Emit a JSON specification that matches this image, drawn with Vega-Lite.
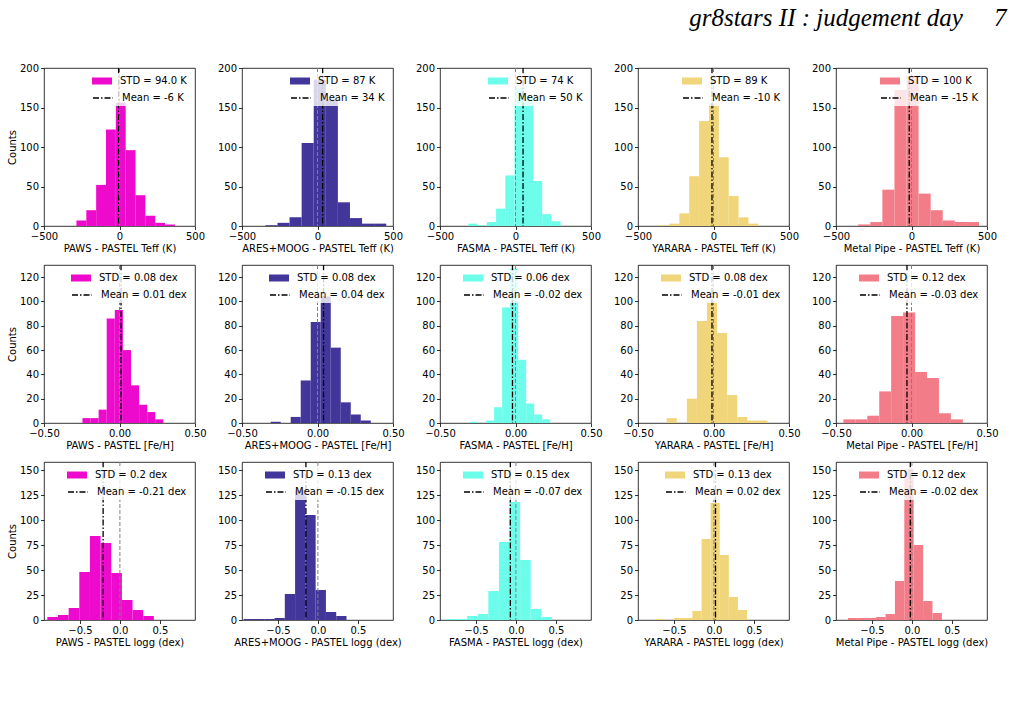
{
"$schema": "https://vega.github.io/schema/vega-lite/v6.json",
"padding": {"left": 7, "top": 5, "right": 5, "bottom": 5},
"title": {"text": "gr8stars II : judgement day\u00a0\u00a0\u00a0\u00a0\u00a07", "anchor": "end", "font": "Liberation Serif", "fontStyle": "italic", "fontWeight": "normal", "fontSize": 25, "color": "#000000", "offset": 32, "dx": 8},
"datasets": {
"bars": [
{"p":1,"x0":-285,"x1":-219.8,"n":7,"k":"STD = 94.0 K"},{"p":1,"x0":-219.8,"x1":-154.6,"n":20,"k":"STD = 94.0 K"},{"p":1,"x0":-154.6,"x1":-89.4,"n":52,"k":"STD = 94.0 K"},{"p":1,"x0":-89.4,"x1":-24.2,"n":122,"k":"STD = 94.0 K"},{"p":1,"x0":-24.2,"x1":41,"n":156,"k":"STD = 94.0 K"},{"p":1,"x0":41,"x1":106.2,"n":96,"k":"STD = 94.0 K"},{"p":1,"x0":106.2,"x1":171.4,"n":39,"k":"STD = 94.0 K"},{"p":1,"x0":171.4,"x1":236.6,"n":13,"k":"STD = 94.0 K"},{"p":1,"x0":236.6,"x1":301.8,"n":4,"k":"STD = 94.0 K"},{"p":1,"x0":301.8,"x1":367,"n":2,"k":"STD = 94.0 K"},
{"p":2,"x0":-345,"x1":-265,"n":1,"k":"STD = 87 K"},{"p":2,"x0":-265,"x1":-185,"n":4,"k":"STD = 87 K"},{"p":2,"x0":-185,"x1":-105,"n":11,"k":"STD = 87 K"},{"p":2,"x0":-105,"x1":-25,"n":105,"k":"STD = 87 K"},{"p":2,"x0":-25,"x1":55,"n":185,"k":"STD = 87 K"},{"p":2,"x0":55,"x1":135,"n":160,"k":"STD = 87 K"},{"p":2,"x0":135,"x1":215,"n":30,"k":"STD = 87 K"},{"p":2,"x0":215,"x1":295,"n":10,"k":"STD = 87 K"},{"p":2,"x0":295,"x1":375,"n":3,"k":"STD = 87 K"},{"p":2,"x0":375,"x1":455,"n":3,"k":"STD = 87 K"},
{"p":3,"x0":-312,"x1":-250.9,"n":3,"k":"STD = 74 K"},{"p":3,"x0":-250.9,"x1":-189.8,"n":1,"k":"STD = 74 K"},{"p":3,"x0":-189.8,"x1":-128.7,"n":5,"k":"STD = 74 K"},{"p":3,"x0":-128.7,"x1":-67.6,"n":22,"k":"STD = 74 K"},{"p":3,"x0":-67.6,"x1":-6.5,"n":64,"k":"STD = 74 K"},{"p":3,"x0":-6.5,"x1":54.6,"n":175,"k":"STD = 74 K"},{"p":3,"x0":54.6,"x1":115.7,"n":165,"k":"STD = 74 K"},{"p":3,"x0":115.7,"x1":176.8,"n":57,"k":"STD = 74 K"},{"p":3,"x0":176.8,"x1":237.9,"n":15,"k":"STD = 74 K"},{"p":3,"x0":237.9,"x1":299,"n":6,"k":"STD = 74 K"},
{"p":4,"x0":-357,"x1":-291.6,"n":1,"k":"STD = 89 K"},{"p":4,"x0":-291.6,"x1":-226.2,"n":3,"k":"STD = 89 K"},{"p":4,"x0":-226.2,"x1":-160.8,"n":16,"k":"STD = 89 K"},{"p":4,"x0":-160.8,"x1":-95.4,"n":63,"k":"STD = 89 K"},{"p":4,"x0":-95.4,"x1":-30,"n":133,"k":"STD = 89 K"},{"p":4,"x0":-30,"x1":35.4,"n":155,"k":"STD = 89 K"},{"p":4,"x0":35.4,"x1":100.8,"n":87,"k":"STD = 89 K"},{"p":4,"x0":100.8,"x1":166.2,"n":38,"k":"STD = 89 K"},{"p":4,"x0":166.2,"x1":231.6,"n":11,"k":"STD = 89 K"},{"p":4,"x0":231.6,"x1":297,"n":3,"k":"STD = 89 K"},
{"p":5,"x0":-353,"x1":-273,"n":2,"k":"STD = 100 K"},{"p":5,"x0":-273,"x1":-193,"n":5,"k":"STD = 100 K"},{"p":5,"x0":-193,"x1":-113,"n":46,"k":"STD = 100 K"},{"p":5,"x0":-113,"x1":-33,"n":172,"k":"STD = 100 K"},{"p":5,"x0":-33,"x1":47,"n":190,"k":"STD = 100 K"},{"p":5,"x0":47,"x1":127,"n":41,"k":"STD = 100 K"},{"p":5,"x0":127,"x1":207,"n":20,"k":"STD = 100 K"},{"p":5,"x0":207,"x1":287,"n":7,"k":"STD = 100 K"},{"p":5,"x0":287,"x1":367,"n":5,"k":"STD = 100 K"},{"p":5,"x0":367,"x1":447,"n":5,"k":"STD = 100 K"},
{"p":6,"x0":-0.2455,"x1":-0.1919,"n":4,"k":"STD = 0.08 dex"},{"p":6,"x0":-0.1919,"x1":-0.1383,"n":4,"k":"STD = 0.08 dex"},{"p":6,"x0":-0.1383,"x1":-0.0847,"n":11,"k":"STD = 0.08 dex"},{"p":6,"x0":-0.0847,"x1":-0.0311,"n":86,"k":"STD = 0.08 dex"},{"p":6,"x0":-0.0311,"x1":0.0225,"n":93,"k":"STD = 0.08 dex"},{"p":6,"x0":0.0225,"x1":0.0761,"n":60,"k":"STD = 0.08 dex"},{"p":6,"x0":0.0761,"x1":0.1297,"n":31,"k":"STD = 0.08 dex"},{"p":6,"x0":0.1297,"x1":0.1833,"n":15,"k":"STD = 0.08 dex"},{"p":6,"x0":0.1833,"x1":0.2369,"n":9,"k":"STD = 0.08 dex"},{"p":6,"x0":0.2369,"x1":0.2905,"n":3,"k":"STD = 0.08 dex"},
{"p":7,"x0":-0.31,"x1":-0.2437,"n":1,"k":"STD = 0.08 dex"},{"p":7,"x0":-0.2437,"x1":-0.1774,"n":0,"k":"STD = 0.08 dex"},{"p":7,"x0":-0.1774,"x1":-0.1111,"n":5,"k":"STD = 0.08 dex"},{"p":7,"x0":-0.1111,"x1":-0.0448,"n":35,"k":"STD = 0.08 dex"},{"p":7,"x0":-0.0448,"x1":0.0215,"n":83,"k":"STD = 0.08 dex"},{"p":7,"x0":0.0215,"x1":0.0878,"n":104,"k":"STD = 0.08 dex"},{"p":7,"x0":0.0878,"x1":0.1541,"n":62,"k":"STD = 0.08 dex"},{"p":7,"x0":0.1541,"x1":0.2204,"n":17,"k":"STD = 0.08 dex"},{"p":7,"x0":0.2204,"x1":0.2867,"n":7,"k":"STD = 0.08 dex"},{"p":7,"x0":0.2867,"x1":0.353,"n":2,"k":"STD = 0.08 dex"},
{"p":8,"x0":-0.301,"x1":-0.2479,"n":1,"k":"STD = 0.06 dex"},{"p":8,"x0":-0.2479,"x1":-0.1948,"n":0,"k":"STD = 0.06 dex"},{"p":8,"x0":-0.1948,"x1":-0.1417,"n":2,"k":"STD = 0.06 dex"},{"p":8,"x0":-0.1417,"x1":-0.0886,"n":13,"k":"STD = 0.06 dex"},{"p":8,"x0":-0.0886,"x1":-0.0355,"n":95,"k":"STD = 0.06 dex"},{"p":8,"x0":-0.0355,"x1":0.0176,"n":127,"k":"STD = 0.06 dex"},{"p":8,"x0":0.0176,"x1":0.0707,"n":52,"k":"STD = 0.06 dex"},{"p":8,"x0":0.0707,"x1":0.1238,"n":16,"k":"STD = 0.06 dex"},{"p":8,"x0":0.1238,"x1":0.1769,"n":7,"k":"STD = 0.06 dex"},{"p":8,"x0":0.1769,"x1":0.23,"n":3,"k":"STD = 0.06 dex"},
{"p":9,"x0":-0.31,"x1":-0.2433,"n":4,"k":"STD = 0.08 dex"},{"p":9,"x0":-0.2433,"x1":-0.1766,"n":0,"k":"STD = 0.08 dex"},{"p":9,"x0":-0.1766,"x1":-0.1099,"n":20,"k":"STD = 0.08 dex"},{"p":9,"x0":-0.1099,"x1":-0.0432,"n":84,"k":"STD = 0.08 dex"},{"p":9,"x0":-0.0432,"x1":0.0235,"n":100,"k":"STD = 0.08 dex"},{"p":9,"x0":0.0235,"x1":0.0902,"n":74,"k":"STD = 0.08 dex"},{"p":9,"x0":0.0902,"x1":0.1569,"n":23,"k":"STD = 0.08 dex"},{"p":9,"x0":0.1569,"x1":0.2236,"n":5,"k":"STD = 0.08 dex"},{"p":9,"x0":0.2236,"x1":0.2903,"n":2,"k":"STD = 0.08 dex"},{"p":9,"x0":0.2903,"x1":0.357,"n":2,"k":"STD = 0.08 dex"},
{"p":10,"x0":-0.451,"x1":-0.3719,"n":3,"k":"STD = 0.12 dex"},{"p":10,"x0":-0.3719,"x1":-0.2928,"n":3,"k":"STD = 0.12 dex"},{"p":10,"x0":-0.2928,"x1":-0.2137,"n":6,"k":"STD = 0.12 dex"},{"p":10,"x0":-0.2137,"x1":-0.1346,"n":26,"k":"STD = 0.12 dex"},{"p":10,"x0":-0.1346,"x1":-0.0555,"n":88,"k":"STD = 0.12 dex"},{"p":10,"x0":-0.0555,"x1":0.0236,"n":91,"k":"STD = 0.12 dex"},{"p":10,"x0":0.0236,"x1":0.1027,"n":42,"k":"STD = 0.12 dex"},{"p":10,"x0":0.1027,"x1":0.1818,"n":37,"k":"STD = 0.12 dex"},{"p":10,"x0":0.1818,"x1":0.2609,"n":8,"k":"STD = 0.12 dex"},{"p":10,"x0":0.2609,"x1":0.34,"n":3,"k":"STD = 0.12 dex"},
{"p":11,"x0":-0.908,"x1":-0.7747,"n":3,"k":"STD = 0.2 dex"},{"p":11,"x0":-0.7747,"x1":-0.6414,"n":5,"k":"STD = 0.2 dex"},{"p":11,"x0":-0.6414,"x1":-0.5081,"n":12,"k":"STD = 0.2 dex"},{"p":11,"x0":-0.5081,"x1":-0.3748,"n":48,"k":"STD = 0.2 dex"},{"p":11,"x0":-0.3748,"x1":-0.2415,"n":84,"k":"STD = 0.2 dex"},{"p":11,"x0":-0.2415,"x1":-0.1082,"n":77,"k":"STD = 0.2 dex"},{"p":11,"x0":-0.1082,"x1":0.0251,"n":47,"k":"STD = 0.2 dex"},{"p":11,"x0":0.0251,"x1":0.1584,"n":20,"k":"STD = 0.2 dex"},{"p":11,"x0":0.1584,"x1":0.2917,"n":10,"k":"STD = 0.2 dex"},{"p":11,"x0":0.2917,"x1":0.425,"n":4,"k":"STD = 0.2 dex"},
{"p":12,"x0":-0.929,"x1":-0.8003,"n":1,"k":"STD = 0.13 dex"},{"p":12,"x0":-0.8003,"x1":-0.6716,"n":1,"k":"STD = 0.13 dex"},{"p":12,"x0":-0.6716,"x1":-0.5429,"n":1,"k":"STD = 0.13 dex"},{"p":12,"x0":-0.5429,"x1":-0.4142,"n":2,"k":"STD = 0.13 dex"},{"p":12,"x0":-0.4142,"x1":-0.2855,"n":26,"k":"STD = 0.13 dex"},{"p":12,"x0":-0.2855,"x1":-0.1568,"n":130,"k":"STD = 0.13 dex"},{"p":12,"x0":-0.1568,"x1":-0.0281,"n":105,"k":"STD = 0.13 dex"},{"p":12,"x0":-0.0281,"x1":0.1006,"n":30,"k":"STD = 0.13 dex"},{"p":12,"x0":0.1006,"x1":0.2293,"n":8,"k":"STD = 0.13 dex"},{"p":12,"x0":0.2293,"x1":0.358,"n":4,"k":"STD = 0.13 dex"},
{"p":13,"x0":-0.875,"x1":-0.7425,"n":1,"k":"STD = 0.15 dex"},{"p":13,"x0":-0.7425,"x1":-0.61,"n":1,"k":"STD = 0.15 dex"},{"p":13,"x0":-0.61,"x1":-0.4775,"n":4,"k":"STD = 0.15 dex"},{"p":13,"x0":-0.4775,"x1":-0.345,"n":6,"k":"STD = 0.15 dex"},{"p":13,"x0":-0.345,"x1":-0.2125,"n":29,"k":"STD = 0.15 dex"},{"p":13,"x0":-0.2125,"x1":-0.08,"n":78,"k":"STD = 0.15 dex"},{"p":13,"x0":-0.08,"x1":0.0525,"n":118,"k":"STD = 0.15 dex"},{"p":13,"x0":0.0525,"x1":0.185,"n":60,"k":"STD = 0.15 dex"},{"p":13,"x0":0.185,"x1":0.3175,"n":11,"k":"STD = 0.15 dex"},{"p":13,"x0":0.3175,"x1":0.45,"n":3,"k":"STD = 0.15 dex"},
{"p":14,"x0":-0.725,"x1":-0.611,"n":1,"k":"STD = 0.13 dex"},{"p":14,"x0":-0.611,"x1":-0.497,"n":0,"k":"STD = 0.13 dex"},{"p":14,"x0":-0.497,"x1":-0.383,"n":2,"k":"STD = 0.13 dex"},{"p":14,"x0":-0.383,"x1":-0.269,"n":2,"k":"STD = 0.13 dex"},{"p":14,"x0":-0.269,"x1":-0.155,"n":9,"k":"STD = 0.13 dex"},{"p":14,"x0":-0.155,"x1":-0.041,"n":81,"k":"STD = 0.13 dex"},{"p":14,"x0":-0.041,"x1":0.073,"n":117,"k":"STD = 0.13 dex"},{"p":14,"x0":0.073,"x1":0.187,"n":65,"k":"STD = 0.13 dex"},{"p":14,"x0":0.187,"x1":0.301,"n":23,"k":"STD = 0.13 dex"},{"p":14,"x0":0.301,"x1":0.415,"n":10,"k":"STD = 0.13 dex"},
{"p":15,"x0":-0.8,"x1":-0.6825,"n":2,"k":"STD = 0.12 dex"},{"p":15,"x0":-0.6825,"x1":-0.565,"n":2,"k":"STD = 0.12 dex"},{"p":15,"x0":-0.565,"x1":-0.4475,"n":2,"k":"STD = 0.12 dex"},{"p":15,"x0":-0.4475,"x1":-0.33,"n":3,"k":"STD = 0.12 dex"},{"p":15,"x0":-0.33,"x1":-0.2125,"n":6,"k":"STD = 0.12 dex"},{"p":15,"x0":-0.2125,"x1":-0.095,"n":39,"k":"STD = 0.12 dex"},{"p":15,"x0":-0.095,"x1":0.0225,"n":151,"k":"STD = 0.12 dex"},{"p":15,"x0":0.0225,"x1":0.14,"n":75,"k":"STD = 0.12 dex"},{"p":15,"x0":0.14,"x1":0.2575,"n":19,"k":"STD = 0.12 dex"},{"p":15,"x0":0.2575,"x1":0.375,"n":7,"k":"STD = 0.12 dex"}
],
"lines": [
{"p":1,"m":-6,"k":"Mean = -6 K"},{"p":2,"m":34,"k":"Mean = 34 K"},{"p":3,"m":50,"k":"Mean = 50 K"},{"p":4,"m":-10,"k":"Mean = -10 K"},{"p":5,"m":-15,"k":"Mean = -15 K"},
{"p":6,"m":0.01,"k":"Mean = 0.01 dex"},{"p":7,"m":0.04,"k":"Mean = 0.04 dex"},{"p":8,"m":-0.02,"k":"Mean = -0.02 dex"},{"p":9,"m":-0.01,"k":"Mean = -0.01 dex"},{"p":10,"m":-0.03,"k":"Mean = -0.03 dex"},
{"p":11,"m":-0.21,"k":"Mean = -0.21 dex"},{"p":12,"m":-0.15,"k":"Mean = -0.15 dex"},{"p":13,"m":-0.07,"k":"Mean = -0.07 dex"},{"p":14,"m":0.02,"k":"Mean = 0.02 dex"},{"p":15,"m":-0.02,"k":"Mean = -0.02 dex"}
]
},
"spacing": 9,
"resolve": {"scale": {"color": "independent", "strokeDash": "independent"}, "legend": {"color": "independent", "strokeDash": "independent"}},
"vconcat": [
{"spacing": 47, "bounds": "flush",
 "resolve": {"scale": {"color": "independent", "strokeDash": "independent"}, "legend": {"color": "independent", "strokeDash": "independent"}},
 "hconcat": [
{"width":151,"height":158,"layer":[
 {"data":{"name":"bars"},"transform":[{"filter":"datum.p == 1"}],"mark":"rect","encoding":{
  "x":{"field":"x0","type":"quantitative","title":"PAWS - PASTEL Teff (K)","scale":{"domain":[-500,500],"nice":false,"zero":false},"axis":{"values":[-500,-250,0,250,500],"format":"d"}},
  "x2":{"field":"x1"},
  "y":{"field":"n","type":"quantitative","title":"Counts","scale":{"domain":[0,200],"nice":false},"axis":{"values":[0,50,100,150,200]}},
  "y2":{"datum":0},
  "color":{"field":"k","type":"nominal","scale":{"range":["#EE0ACC"]},"legend":{"title":null,"symbolType":"M-2,-0.7H2V0.7H-2Z","symbolStrokeWidth":0}}}},
 {"data":{"name":"lines"},"transform":[{"filter":"datum.p == 1"}],"mark":{"type":"rule","color":"#808080","strokeDash":[4,2],"strokeWidth":1},"encoding":{"x":{"datum":0}}},
 {"data":{"name":"lines"},"transform":[{"filter":"datum.p == 1"}],"mark":{"type":"rule","color":"#000000","strokeWidth":1.3},"encoding":{"x":{"field":"m","type":"quantitative","title":"PAWS - PASTEL Teff (K)"},"strokeDash":{"field":"k","type":"nominal","scale":{"range":[[6,2,1.5,2]]},"legend":{"title":null,"symbolType":"M-2,0H2","symbolStrokeColor":"#000000","symbolStrokeWidth":1.5}}}}
]},
{"width":151,"height":158,"layer":[
 {"data":{"name":"bars"},"transform":[{"filter":"datum.p == 2"}],"mark":"rect","encoding":{
  "x":{"field":"x0","type":"quantitative","title":"ARES+MOOG - PASTEL Teff (K)","scale":{"domain":[-500,500],"nice":false,"zero":false},"axis":{"values":[-500,-250,0,250,500],"format":"d"}},
  "x2":{"field":"x1"},
  "y":{"field":"n","type":"quantitative","title":null,"scale":{"domain":[0,200],"nice":false},"axis":{"values":[0,50,100,150,200]}},
  "y2":{"datum":0},
  "color":{"field":"k","type":"nominal","scale":{"range":["#42369B"]},"legend":{"title":null,"symbolType":"M-2,-0.7H2V0.7H-2Z","symbolStrokeWidth":0}}}},
 {"data":{"name":"lines"},"transform":[{"filter":"datum.p == 2"}],"mark":{"type":"rule","color":"#808080","strokeDash":[4,2],"strokeWidth":1},"encoding":{"x":{"datum":0}}},
 {"data":{"name":"lines"},"transform":[{"filter":"datum.p == 2"}],"mark":{"type":"rule","color":"#000000","strokeWidth":1.3},"encoding":{"x":{"field":"m","type":"quantitative","title":"ARES+MOOG - PASTEL Teff (K)"},"strokeDash":{"field":"k","type":"nominal","scale":{"range":[[6,2,1.5,2]]},"legend":{"title":null,"symbolType":"M-2,0H2","symbolStrokeColor":"#000000","symbolStrokeWidth":1.5}}}}
]},
{"width":151,"height":158,"layer":[
 {"data":{"name":"bars"},"transform":[{"filter":"datum.p == 3"}],"mark":"rect","encoding":{
  "x":{"field":"x0","type":"quantitative","title":"FASMA - PASTEL Teff (K)","scale":{"domain":[-500,500],"nice":false,"zero":false},"axis":{"values":[-500,-250,0,250,500],"format":"d"}},
  "x2":{"field":"x1"},
  "y":{"field":"n","type":"quantitative","title":null,"scale":{"domain":[0,200],"nice":false},"axis":{"values":[0,50,100,150,200]}},
  "y2":{"datum":0},
  "color":{"field":"k","type":"nominal","scale":{"range":["#6DFDEB"]},"legend":{"title":null,"symbolType":"M-2,-0.7H2V0.7H-2Z","symbolStrokeWidth":0}}}},
 {"data":{"name":"lines"},"transform":[{"filter":"datum.p == 3"}],"mark":{"type":"rule","color":"#808080","strokeDash":[4,2],"strokeWidth":1},"encoding":{"x":{"datum":0}}},
 {"data":{"name":"lines"},"transform":[{"filter":"datum.p == 3"}],"mark":{"type":"rule","color":"#000000","strokeWidth":1.3},"encoding":{"x":{"field":"m","type":"quantitative","title":"FASMA - PASTEL Teff (K)"},"strokeDash":{"field":"k","type":"nominal","scale":{"range":[[6,2,1.5,2]]},"legend":{"title":null,"symbolType":"M-2,0H2","symbolStrokeColor":"#000000","symbolStrokeWidth":1.5}}}}
]},
{"width":151,"height":158,"layer":[
 {"data":{"name":"bars"},"transform":[{"filter":"datum.p == 4"}],"mark":"rect","encoding":{
  "x":{"field":"x0","type":"quantitative","title":"YARARA - PASTEL Teff (K)","scale":{"domain":[-500,500],"nice":false,"zero":false},"axis":{"values":[-500,-250,0,250,500],"format":"d"}},
  "x2":{"field":"x1"},
  "y":{"field":"n","type":"quantitative","title":null,"scale":{"domain":[0,200],"nice":false},"axis":{"values":[0,50,100,150,200]}},
  "y2":{"datum":0},
  "color":{"field":"k","type":"nominal","scale":{"range":["#F0D57A"]},"legend":{"title":null,"symbolType":"M-2,-0.7H2V0.7H-2Z","symbolStrokeWidth":0}}}},
 {"data":{"name":"lines"},"transform":[{"filter":"datum.p == 4"}],"mark":{"type":"rule","color":"#808080","strokeDash":[4,2],"strokeWidth":1},"encoding":{"x":{"datum":0}}},
 {"data":{"name":"lines"},"transform":[{"filter":"datum.p == 4"}],"mark":{"type":"rule","color":"#000000","strokeWidth":1.3},"encoding":{"x":{"field":"m","type":"quantitative","title":"YARARA - PASTEL Teff (K)"},"strokeDash":{"field":"k","type":"nominal","scale":{"range":[[6,2,1.5,2]]},"legend":{"title":null,"symbolType":"M-2,0H2","symbolStrokeColor":"#000000","symbolStrokeWidth":1.5}}}}
]},
{"width":151,"height":158,"layer":[
 {"data":{"name":"bars"},"transform":[{"filter":"datum.p == 5"}],"mark":"rect","encoding":{
  "x":{"field":"x0","type":"quantitative","title":"Metal Pipe - PASTEL Teff (K)","scale":{"domain":[-500,500],"nice":false,"zero":false},"axis":{"values":[-500,-250,0,250,500],"format":"d"}},
  "x2":{"field":"x1"},
  "y":{"field":"n","type":"quantitative","title":null,"scale":{"domain":[0,200],"nice":false},"axis":{"values":[0,50,100,150,200]}},
  "y2":{"datum":0},
  "color":{"field":"k","type":"nominal","scale":{"range":["#F27C87"]},"legend":{"title":null,"symbolType":"M-2,-0.7H2V0.7H-2Z","symbolStrokeWidth":0}}}},
 {"data":{"name":"lines"},"transform":[{"filter":"datum.p == 5"}],"mark":{"type":"rule","color":"#808080","strokeDash":[4,2],"strokeWidth":1},"encoding":{"x":{"datum":0}}},
 {"data":{"name":"lines"},"transform":[{"filter":"datum.p == 5"}],"mark":{"type":"rule","color":"#000000","strokeWidth":1.3},"encoding":{"x":{"field":"m","type":"quantitative","title":"Metal Pipe - PASTEL Teff (K)"},"strokeDash":{"field":"k","type":"nominal","scale":{"range":[[6,2,1.5,2]]},"legend":{"title":null,"symbolType":"M-2,0H2","symbolStrokeColor":"#000000","symbolStrokeWidth":1.5}}}}
]}
]},
{"spacing": 47, "bounds": "flush",
 "resolve": {"scale": {"color": "independent", "strokeDash": "independent"}, "legend": {"color": "independent", "strokeDash": "independent"}},
 "hconcat": [
{"width":151,"height":158,"layer":[
 {"data":{"name":"bars"},"transform":[{"filter":"datum.p == 6"}],"mark":"rect","encoding":{
  "x":{"field":"x0","type":"quantitative","title":"PAWS - PASTEL [Fe/H]","scale":{"domain":[-0.5,0.5],"nice":false,"zero":false},"axis":{"values":[-0.5,-0.25,0,0.25,0.5],"format":".2f"}},
  "x2":{"field":"x1"},
  "y":{"field":"n","type":"quantitative","title":"Counts","scale":{"domain":[0,130],"nice":false},"axis":{"values":[0,20,40,60,80,100,120]}},
  "y2":{"datum":0},
  "color":{"field":"k","type":"nominal","scale":{"range":["#EE0ACC"]},"legend":{"title":null,"symbolType":"M-2,-0.7H2V0.7H-2Z","symbolStrokeWidth":0}}}},
 {"data":{"name":"lines"},"transform":[{"filter":"datum.p == 6"}],"mark":{"type":"rule","color":"#808080","strokeDash":[4,2],"strokeWidth":1},"encoding":{"x":{"datum":0}}},
 {"data":{"name":"lines"},"transform":[{"filter":"datum.p == 6"}],"mark":{"type":"rule","color":"#000000","strokeWidth":1.3},"encoding":{"x":{"field":"m","type":"quantitative","title":"PAWS - PASTEL [Fe/H]"},"strokeDash":{"field":"k","type":"nominal","scale":{"range":[[6,2,1.5,2]]},"legend":{"title":null,"symbolType":"M-2,0H2","symbolStrokeColor":"#000000","symbolStrokeWidth":1.5}}}}
]},
{"width":151,"height":158,"layer":[
 {"data":{"name":"bars"},"transform":[{"filter":"datum.p == 7"}],"mark":"rect","encoding":{
  "x":{"field":"x0","type":"quantitative","title":"ARES+MOOG - PASTEL [Fe/H]","scale":{"domain":[-0.5,0.5],"nice":false,"zero":false},"axis":{"values":[-0.5,-0.25,0,0.25,0.5],"format":".2f"}},
  "x2":{"field":"x1"},
  "y":{"field":"n","type":"quantitative","title":null,"scale":{"domain":[0,130],"nice":false},"axis":{"values":[0,20,40,60,80,100,120]}},
  "y2":{"datum":0},
  "color":{"field":"k","type":"nominal","scale":{"range":["#42369B"]},"legend":{"title":null,"symbolType":"M-2,-0.7H2V0.7H-2Z","symbolStrokeWidth":0}}}},
 {"data":{"name":"lines"},"transform":[{"filter":"datum.p == 7"}],"mark":{"type":"rule","color":"#808080","strokeDash":[4,2],"strokeWidth":1},"encoding":{"x":{"datum":0}}},
 {"data":{"name":"lines"},"transform":[{"filter":"datum.p == 7"}],"mark":{"type":"rule","color":"#000000","strokeWidth":1.3},"encoding":{"x":{"field":"m","type":"quantitative","title":"ARES+MOOG - PASTEL [Fe/H]"},"strokeDash":{"field":"k","type":"nominal","scale":{"range":[[6,2,1.5,2]]},"legend":{"title":null,"symbolType":"M-2,0H2","symbolStrokeColor":"#000000","symbolStrokeWidth":1.5}}}}
]},
{"width":151,"height":158,"layer":[
 {"data":{"name":"bars"},"transform":[{"filter":"datum.p == 8"}],"mark":"rect","encoding":{
  "x":{"field":"x0","type":"quantitative","title":"FASMA - PASTEL [Fe/H]","scale":{"domain":[-0.5,0.5],"nice":false,"zero":false},"axis":{"values":[-0.5,-0.25,0,0.25,0.5],"format":".2f"}},
  "x2":{"field":"x1"},
  "y":{"field":"n","type":"quantitative","title":null,"scale":{"domain":[0,130],"nice":false},"axis":{"values":[0,20,40,60,80,100,120]}},
  "y2":{"datum":0},
  "color":{"field":"k","type":"nominal","scale":{"range":["#6DFDEB"]},"legend":{"title":null,"symbolType":"M-2,-0.7H2V0.7H-2Z","symbolStrokeWidth":0}}}},
 {"data":{"name":"lines"},"transform":[{"filter":"datum.p == 8"}],"mark":{"type":"rule","color":"#808080","strokeDash":[4,2],"strokeWidth":1},"encoding":{"x":{"datum":0}}},
 {"data":{"name":"lines"},"transform":[{"filter":"datum.p == 8"}],"mark":{"type":"rule","color":"#000000","strokeWidth":1.3},"encoding":{"x":{"field":"m","type":"quantitative","title":"FASMA - PASTEL [Fe/H]"},"strokeDash":{"field":"k","type":"nominal","scale":{"range":[[6,2,1.5,2]]},"legend":{"title":null,"symbolType":"M-2,0H2","symbolStrokeColor":"#000000","symbolStrokeWidth":1.5}}}}
]},
{"width":151,"height":158,"layer":[
 {"data":{"name":"bars"},"transform":[{"filter":"datum.p == 9"}],"mark":"rect","encoding":{
  "x":{"field":"x0","type":"quantitative","title":"YARARA - PASTEL [Fe/H]","scale":{"domain":[-0.5,0.5],"nice":false,"zero":false},"axis":{"values":[-0.5,-0.25,0,0.25,0.5],"format":".2f"}},
  "x2":{"field":"x1"},
  "y":{"field":"n","type":"quantitative","title":null,"scale":{"domain":[0,130],"nice":false},"axis":{"values":[0,20,40,60,80,100,120]}},
  "y2":{"datum":0},
  "color":{"field":"k","type":"nominal","scale":{"range":["#F0D57A"]},"legend":{"title":null,"symbolType":"M-2,-0.7H2V0.7H-2Z","symbolStrokeWidth":0}}}},
 {"data":{"name":"lines"},"transform":[{"filter":"datum.p == 9"}],"mark":{"type":"rule","color":"#808080","strokeDash":[4,2],"strokeWidth":1},"encoding":{"x":{"datum":0}}},
 {"data":{"name":"lines"},"transform":[{"filter":"datum.p == 9"}],"mark":{"type":"rule","color":"#000000","strokeWidth":1.3},"encoding":{"x":{"field":"m","type":"quantitative","title":"YARARA - PASTEL [Fe/H]"},"strokeDash":{"field":"k","type":"nominal","scale":{"range":[[6,2,1.5,2]]},"legend":{"title":null,"symbolType":"M-2,0H2","symbolStrokeColor":"#000000","symbolStrokeWidth":1.5}}}}
]},
{"width":151,"height":158,"layer":[
 {"data":{"name":"bars"},"transform":[{"filter":"datum.p == 10"}],"mark":"rect","encoding":{
  "x":{"field":"x0","type":"quantitative","title":"Metal Pipe - PASTEL [Fe/H]","scale":{"domain":[-0.5,0.5],"nice":false,"zero":false},"axis":{"values":[-0.5,-0.25,0,0.25,0.5],"format":".2f"}},
  "x2":{"field":"x1"},
  "y":{"field":"n","type":"quantitative","title":null,"scale":{"domain":[0,130],"nice":false},"axis":{"values":[0,20,40,60,80,100,120]}},
  "y2":{"datum":0},
  "color":{"field":"k","type":"nominal","scale":{"range":["#F27C87"]},"legend":{"title":null,"symbolType":"M-2,-0.7H2V0.7H-2Z","symbolStrokeWidth":0}}}},
 {"data":{"name":"lines"},"transform":[{"filter":"datum.p == 10"}],"mark":{"type":"rule","color":"#808080","strokeDash":[4,2],"strokeWidth":1},"encoding":{"x":{"datum":0}}},
 {"data":{"name":"lines"},"transform":[{"filter":"datum.p == 10"}],"mark":{"type":"rule","color":"#000000","strokeWidth":1.3},"encoding":{"x":{"field":"m","type":"quantitative","title":"Metal Pipe - PASTEL [Fe/H]"},"strokeDash":{"field":"k","type":"nominal","scale":{"range":[[6,2,1.5,2]]},"legend":{"title":null,"symbolType":"M-2,0H2","symbolStrokeColor":"#000000","symbolStrokeWidth":1.5}}}}
]}
]},
{"spacing": 47, "bounds": "flush",
 "resolve": {"scale": {"color": "independent", "strokeDash": "independent"}, "legend": {"color": "independent", "strokeDash": "independent"}},
 "hconcat": [
{"width":151,"height":158,"layer":[
 {"data":{"name":"bars"},"transform":[{"filter":"datum.p == 11"}],"mark":"rect","encoding":{
  "x":{"field":"x0","type":"quantitative","title":"PAWS - PASTEL logg (dex)","scale":{"domain":[-0.95,0.94],"nice":false,"zero":false},"axis":{"values":[-0.5,0,0.5],"format":".1f"}},
  "x2":{"field":"x1"},
  "y":{"field":"n","type":"quantitative","title":"Counts","scale":{"domain":[0,158],"nice":false},"axis":{"values":[0,25,50,75,100,125,150]}},
  "y2":{"datum":0},
  "color":{"field":"k","type":"nominal","scale":{"range":["#EE0ACC"]},"legend":{"title":null,"symbolType":"M-2,-0.7H2V0.7H-2Z","symbolStrokeWidth":0}}}},
 {"data":{"name":"lines"},"transform":[{"filter":"datum.p == 11"}],"mark":{"type":"rule","color":"#808080","strokeDash":[4,2],"strokeWidth":1},"encoding":{"x":{"datum":0}}},
 {"data":{"name":"lines"},"transform":[{"filter":"datum.p == 11"}],"mark":{"type":"rule","color":"#000000","strokeWidth":1.3},"encoding":{"x":{"field":"m","type":"quantitative","title":"PAWS - PASTEL logg (dex)"},"strokeDash":{"field":"k","type":"nominal","scale":{"range":[[6,2,1.5,2]]},"legend":{"title":null,"symbolType":"M-2,0H2","symbolStrokeColor":"#000000","symbolStrokeWidth":1.5}}}}
]},
{"width":151,"height":158,"layer":[
 {"data":{"name":"bars"},"transform":[{"filter":"datum.p == 12"}],"mark":"rect","encoding":{
  "x":{"field":"x0","type":"quantitative","title":"ARES+MOOG - PASTEL logg (dex)","scale":{"domain":[-0.95,0.94],"nice":false,"zero":false},"axis":{"values":[-0.5,0,0.5],"format":".1f"}},
  "x2":{"field":"x1"},
  "y":{"field":"n","type":"quantitative","title":null,"scale":{"domain":[0,158],"nice":false},"axis":{"values":[0,25,50,75,100,125,150]}},
  "y2":{"datum":0},
  "color":{"field":"k","type":"nominal","scale":{"range":["#42369B"]},"legend":{"title":null,"symbolType":"M-2,-0.7H2V0.7H-2Z","symbolStrokeWidth":0}}}},
 {"data":{"name":"lines"},"transform":[{"filter":"datum.p == 12"}],"mark":{"type":"rule","color":"#808080","strokeDash":[4,2],"strokeWidth":1},"encoding":{"x":{"datum":0}}},
 {"data":{"name":"lines"},"transform":[{"filter":"datum.p == 12"}],"mark":{"type":"rule","color":"#000000","strokeWidth":1.3},"encoding":{"x":{"field":"m","type":"quantitative","title":"ARES+MOOG - PASTEL logg (dex)"},"strokeDash":{"field":"k","type":"nominal","scale":{"range":[[6,2,1.5,2]]},"legend":{"title":null,"symbolType":"M-2,0H2","symbolStrokeColor":"#000000","symbolStrokeWidth":1.5}}}}
]},
{"width":151,"height":158,"layer":[
 {"data":{"name":"bars"},"transform":[{"filter":"datum.p == 13"}],"mark":"rect","encoding":{
  "x":{"field":"x0","type":"quantitative","title":"FASMA - PASTEL logg (dex)","scale":{"domain":[-0.95,0.94],"nice":false,"zero":false},"axis":{"values":[-0.5,0,0.5],"format":".1f"}},
  "x2":{"field":"x1"},
  "y":{"field":"n","type":"quantitative","title":null,"scale":{"domain":[0,158],"nice":false},"axis":{"values":[0,25,50,75,100,125,150]}},
  "y2":{"datum":0},
  "color":{"field":"k","type":"nominal","scale":{"range":["#6DFDEB"]},"legend":{"title":null,"symbolType":"M-2,-0.7H2V0.7H-2Z","symbolStrokeWidth":0}}}},
 {"data":{"name":"lines"},"transform":[{"filter":"datum.p == 13"}],"mark":{"type":"rule","color":"#808080","strokeDash":[4,2],"strokeWidth":1},"encoding":{"x":{"datum":0}}},
 {"data":{"name":"lines"},"transform":[{"filter":"datum.p == 13"}],"mark":{"type":"rule","color":"#000000","strokeWidth":1.3},"encoding":{"x":{"field":"m","type":"quantitative","title":"FASMA - PASTEL logg (dex)"},"strokeDash":{"field":"k","type":"nominal","scale":{"range":[[6,2,1.5,2]]},"legend":{"title":null,"symbolType":"M-2,0H2","symbolStrokeColor":"#000000","symbolStrokeWidth":1.5}}}}
]},
{"width":151,"height":158,"layer":[
 {"data":{"name":"bars"},"transform":[{"filter":"datum.p == 14"}],"mark":"rect","encoding":{
  "x":{"field":"x0","type":"quantitative","title":"YARARA - PASTEL logg (dex)","scale":{"domain":[-0.95,0.94],"nice":false,"zero":false},"axis":{"values":[-0.5,0,0.5],"format":".1f"}},
  "x2":{"field":"x1"},
  "y":{"field":"n","type":"quantitative","title":null,"scale":{"domain":[0,158],"nice":false},"axis":{"values":[0,25,50,75,100,125,150]}},
  "y2":{"datum":0},
  "color":{"field":"k","type":"nominal","scale":{"range":["#F0D57A"]},"legend":{"title":null,"symbolType":"M-2,-0.7H2V0.7H-2Z","symbolStrokeWidth":0}}}},
 {"data":{"name":"lines"},"transform":[{"filter":"datum.p == 14"}],"mark":{"type":"rule","color":"#808080","strokeDash":[4,2],"strokeWidth":1},"encoding":{"x":{"datum":0}}},
 {"data":{"name":"lines"},"transform":[{"filter":"datum.p == 14"}],"mark":{"type":"rule","color":"#000000","strokeWidth":1.3},"encoding":{"x":{"field":"m","type":"quantitative","title":"YARARA - PASTEL logg (dex)"},"strokeDash":{"field":"k","type":"nominal","scale":{"range":[[6,2,1.5,2]]},"legend":{"title":null,"symbolType":"M-2,0H2","symbolStrokeColor":"#000000","symbolStrokeWidth":1.5}}}}
]},
{"width":151,"height":158,"layer":[
 {"data":{"name":"bars"},"transform":[{"filter":"datum.p == 15"}],"mark":"rect","encoding":{
  "x":{"field":"x0","type":"quantitative","title":"Metal Pipe - PASTEL logg (dex)","scale":{"domain":[-0.95,0.94],"nice":false,"zero":false},"axis":{"values":[-0.5,0,0.5],"format":".1f"}},
  "x2":{"field":"x1"},
  "y":{"field":"n","type":"quantitative","title":null,"scale":{"domain":[0,158],"nice":false},"axis":{"values":[0,25,50,75,100,125,150]}},
  "y2":{"datum":0},
  "color":{"field":"k","type":"nominal","scale":{"range":["#F27C87"]},"legend":{"title":null,"symbolType":"M-2,-0.7H2V0.7H-2Z","symbolStrokeWidth":0}}}},
 {"data":{"name":"lines"},"transform":[{"filter":"datum.p == 15"}],"mark":{"type":"rule","color":"#808080","strokeDash":[4,2],"strokeWidth":1},"encoding":{"x":{"datum":0}}},
 {"data":{"name":"lines"},"transform":[{"filter":"datum.p == 15"}],"mark":{"type":"rule","color":"#000000","strokeWidth":1.3},"encoding":{"x":{"field":"m","type":"quantitative","title":"Metal Pipe - PASTEL logg (dex)"},"strokeDash":{"field":"k","type":"nominal","scale":{"range":[[6,2,1.5,2]]},"legend":{"title":null,"symbolType":"M-2,0H2","symbolStrokeColor":"#000000","symbolStrokeWidth":1.5}}}}
]}
]}
],
"config": {
 "font": "DejaVu Sans",
 "background": "#ffffff",
 "view": {"stroke": "#000000", "strokeWidth": 0.8},
 "axis": {"grid": false, "domain": false, "ticks": true, "tickSize": 3.5, "tickWidth": 0.8, "tickColor": "#000000", "labelFont": "DejaVu Sans", "labelFontSize": 10, "labelColor": "#000000", "labelPadding": 2, "labelFlush": false, "labelOverlap": false, "titleFont": "DejaVu Sans", "titleFontSize": 10, "titleFontWeight": "normal", "titleColor": "#000000", "titlePadding": 2},
 "legend": {"orient": "top-right", "offset": 5, "fillColor": "rgba(255,255,255,0.8)", "padding": 3, "labelFont": "DejaVu Sans", "labelFontSize": 10, "labelColor": "#000000", "labelOffset": 13, "symbolSize": 100, "labelLimit": 200, "layout": {"direction": "vertical", "margin": 0, "top-right": {"direction": "vertical", "margin": 0}}}
}
}
